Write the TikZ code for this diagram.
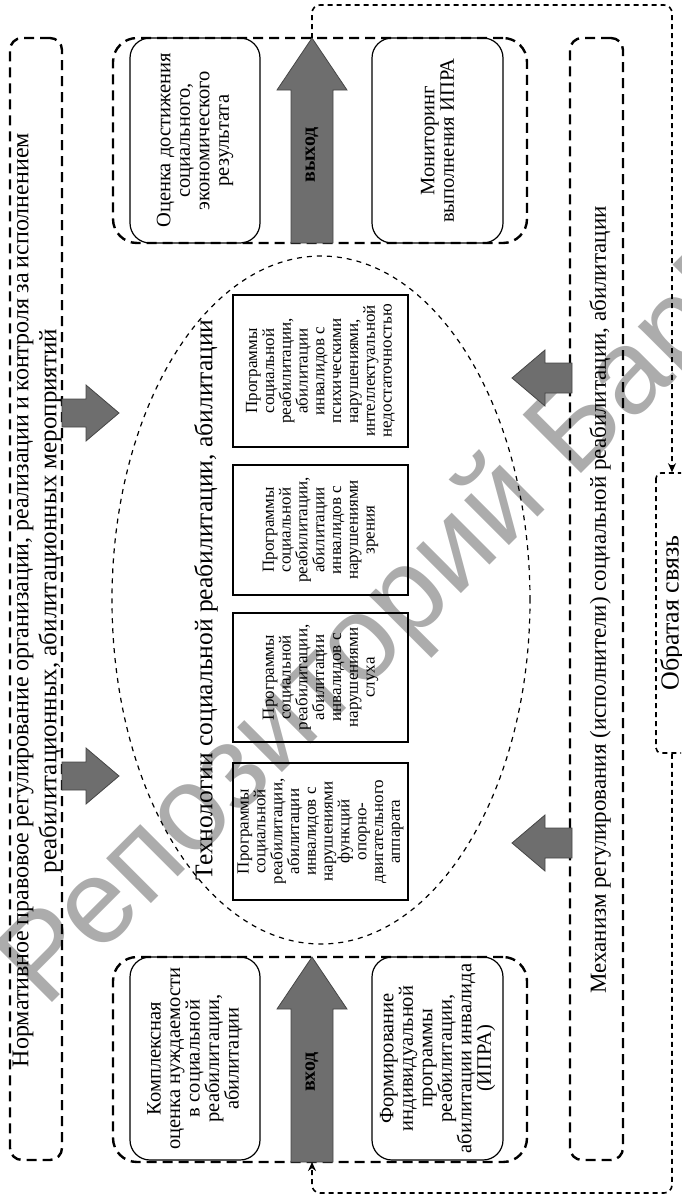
\documentclass[tikz,border=0pt]{standalone}
\usepackage{fontspec}
\setmainfont{Liberation Serif}
\newfontfamily\wmfont{Liberation Sans}
\usetikzlibrary{shapes.geometric,arrows.meta,calc}
\definecolor{arrfill}{RGB}{110,110,110}
\definecolor{arrdraw}{RGB}{70,70,70}
\definecolor{wmgray}{RGB}{172,172,172}
\tikzset{
  dbox/.style={draw, line width=2.4pt, dash pattern=on 10pt off 6pt, inner sep=0pt},
  rbox/.style={draw, line width=1.2pt, rounded corners=20pt, rotate=90, align=center, inner sep=0pt,
    font=\fontsize{20.5}{19.5}\selectfont},
  pbox/.style={draw, line width=2.2pt, rotate=90, align=center, inner sep=0pt,
    font=\fontsize{17}{16.8}\selectfont},
  blk/.style={fill=arrfill, draw=arrdraw, line width=0.8pt},
  fbl/.style={line width=1.6pt, dash pattern=on 5pt off 4pt, rounded corners=8pt},
  vtext/.style={rotate=90, inner sep=0pt, font=\fontsize{23}{26}\selectfont},
  lbl/.style={rotate=90, inner sep=0pt, font=\bfseries\fontsize{20}{20}\selectfont},
  tip/.style={-{Stealth[length=9pt,width=8pt]}}
}
% block arrow pointing right: (x of shaft start, y of axis)
\newcommand{\blockarrowR}[2]{\draw[blk] (#1,#2) ++(0,-14) -- ++(24,0) -- ++(0,-14) -- ++(33,28) -- ++(-33,28) -- ++(0,-14) -- ++(-24,0) -- cycle;}
% block arrow pointing left: (x of shaft end, y of axis)
\newcommand{\blockarrowL}[2]{\draw[blk] (#1,#2) ++(0,-15) -- ++(-27,0) -- ++(0,-13) -- ++(-33,28) -- ++(33,28) -- ++(0,-13) -- ++(27,0) -- cycle;}
\begin{document}
\begin{tikzpicture}[x=1pt,y=-1pt]
\useasboundingbox (0,0) rectangle (681,1203);
\clip (0,0) rectangle (681,1203);
% watermark
\node[rotate=45, anchor=base west, text=wmgray, inner sep=0pt,
  font=\wmfont\fontsize{120}{120}\selectfont] (wm) at (45,1010) {Репозиторий БарГУ};

% outer dashed boxes
\node[dbox, rounded corners=12pt, minimum width=52pt, minimum height=1122pt] (lbox) at (36,599) {};
\node[dbox, rounded corners=12pt, minimum width=53pt, minimum height=1122pt] (rbox) at (596.5,599) {};
\node[dbox, rounded corners=24pt, minimum width=414pt, minimum height=205pt] (outbox) at (320,140.5) {};
\node[dbox, rounded corners=24pt, minimum width=414pt, minimum height=205pt] (inbox) at (320,1059.5) {};

% side texts
\node[vtext, font=\fontsize{24}{28}\selectfont] (l1) at (23,600) {\makebox[934pt][s]{Нормативное правовое регулирование организации, реализации и контроля за исполнением}};
\node[vtext, font=\fontsize{25}{28}\selectfont] (l2) at (50,601) {реабилитационных, абилитационных мероприятий};
\node[vtext] (r1) at (600,600) {Механизм регулирования (исполнители) социальной реабилитации, абилитации};

% output block
\node[rbox, minimum width=205pt, minimum height=130pt] (ocenka) at (195,140.5)
  {Оценка достижения\\социального,\\экономического\\результата};
\node[rbox, minimum width=205pt, minimum height=131pt] (monitor) at (437.5,140.5)
  {Мониторинг\\выполнения ИПРА};
\coordinate (outtip) at (312,38);
\draw[blk] (outtip) -- (347,90) -- (333,90) -- (333,243) -- (291,243) -- (291,90) -- (277,90) -- cycle;
\node[lbl] (outlbl) at (312,155) {выход};

% input block
\node[rbox, minimum width=203pt, minimum height=130pt] (kompl) at (195,1058.5)
  {Комплексная\\оценка нуждаемости\\в социальной\\реабилитации,\\абилитации};
\node[rbox, minimum width=203pt, minimum height=131pt] (form) at (437.5,1058.5)
  {Формирование\\индивидуальной\\программы\\реабилитации,\\абилитации инвалида\\(ИПРА)};
\coordinate (intip) at (312,957);
\coordinate (inbase) at (312,1162);
\draw[blk] (intip) -- (347,1009) -- (333,1009) -- (333,1162) -- (291,1162) -- (291,1009) -- (277,1009) -- cycle;
\node[lbl] (inlbl) at (312,1072) {вход};

% ellipse of technologies
\node[draw, ellipse, line width=1.2pt, dash pattern=on 5pt off 5pt, minimum width=418pt, minimum height=688pt, inner sep=0pt] (tech) at (321,600) {};
\node[vtext, font=\fontsize{25.5}{28}\selectfont] (techlbl) at (206,600) {Технологии социальной реабилитации, абилитации};

\node[pbox, minimum width=152pt, minimum height=175pt] (p1) at (320.5,371)
  {Программы\\социальной\\реабилитации,\\абилитации\\инвалидов с\\психическими\\нарушениями,\\интеллектуальной\\недостаточностью};
\node[pbox, minimum width=130pt, minimum height=175pt] (p2) at (320.5,530)
  {Программы\\социальной\\реабилитации,\\абилитации\\инвалидов с\\нарушениями\\зрения};
\node[pbox, minimum width=129pt, minimum height=175pt] (p3) at (320.5,677.5)
  {Программы\\социальной\\реабилитации,\\абилитации\\инвалидов с\\нарушениями\\слуха};
\node[pbox, minimum width=137pt, minimum height=175pt] (p4) at (320.5,831.5)
  {Программы\\социальной\\реабилитации,\\абилитации\\инвалидов с\\нарушениями\\функций\\опорно-\\двигательного\\аппарата};

% small block arrows
\blockarrowR{62}{413}
\blockarrowR{62}{776}
\blockarrowL{572}{378}
\blockarrowL{572}{843}

% feedback
\node[draw, line width=1.6pt, dash pattern=on 5pt off 4pt, rounded corners=5pt, rotate=90,
  minimum width=280pt, minimum height=32pt, inner sep=0pt, font=\fontsize{26}{28}\selectfont] (fb) at (672,613) {Обратая связь};
\draw[fbl, tip] (outtip) |- (fb.east |- 0,5) -- (fb.east);
\draw[fbl, tip] (fb.west) -- (fb.west |- 0,1193) -| (inbase);
\end{tikzpicture}
\end{document}
